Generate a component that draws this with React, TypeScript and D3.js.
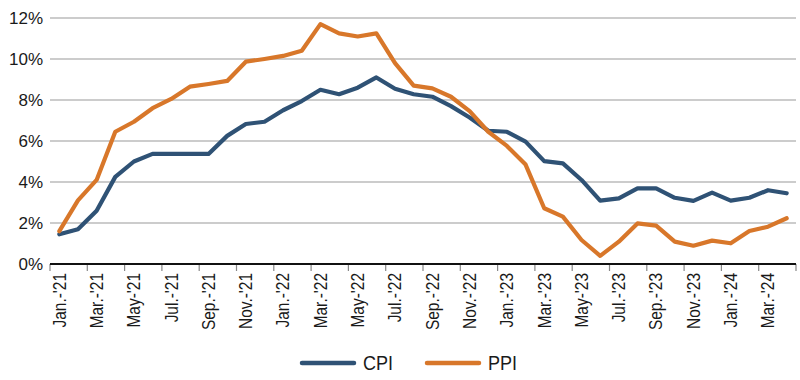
import React from "react";
import * as d3 from "d3";

const months = [
  "Jan.-'21","Feb.-'21","Mar.-'21","Apr.-'21","May-'21","Jun.-'21","Jul.-'21","Aug.-'21","Sep.-'21","Oct.-'21","Nov.-'21","Dec.-'21",
  "Jan.-'22","Feb.-'22","Mar.-'22","Apr.-'22","May-'22","Jun.-'22","Jul.-'22","Aug.-'22","Sep.-'22","Oct.-'22","Nov.-'22","Dec.-'22",
  "Jan.-'23","Feb.-'23","Mar.-'23","Apr.-'23","May-'23","Jun.-'23","Jul.-'23","Aug.-'23","Sep.-'23","Oct.-'23","Nov.-'23","Dec.-'23",
  "Jan.-'24","Feb.-'24","Mar.-'24","Apr.-'24",
];

const cpi = [
  1.45, 1.7, 2.6, 4.25, 5.0, 5.37, 5.37, 5.37, 5.37, 6.25, 6.83, 6.94,
  7.5, 7.95, 8.5, 8.28, 8.6, 9.1, 8.55, 8.28, 8.16, 7.7, 7.15, 6.5,
  6.45, 5.97, 5.02, 4.91, 4.1, 3.09, 3.2, 3.69, 3.69, 3.23, 3.08, 3.48,
  3.09, 3.23, 3.6, 3.45,
];

const ppi = [
  1.6, 3.1, 4.1, 6.45, 6.94, 7.6, 8.05, 8.65, 8.78, 8.93, 9.87, 10.0,
  10.15, 10.4, 11.7, 11.25, 11.1, 11.25, 9.8, 8.7, 8.57, 8.16, 7.46, 6.45,
  5.76, 4.85, 2.72, 2.31, 1.17, 0.4, 1.09, 1.98, 1.87, 1.09, 0.89, 1.14,
  1.01, 1.61, 1.82, 2.23,
];

const yTicks = [0, 2, 4, 6, 8, 10, 12];

const series = [
  { name: "CPI", values: cpi, color: "#2f5275" },
  { name: "PPI", values: ppi, color: "#d8772a" },
];

export default function App() {
  const W = 800, H = 380;
  const left = 50, right = 796, top = 18, bottom = 264;

  const x = d3.scaleBand<number>().domain(d3.range(months.length)).range([left, right]).padding(0);
  const y = d3.scaleLinear().domain([0, 12]).range([bottom, top]);

  const line = d3
    .line<number>()
    .x((_, i) => (x(i) as number) + x.bandwidth() / 2)
    .y((d) => y(d))
    .curve(d3.curveLinear);

  const tickIdx = d3.range(0, months.length + 1, 2);
  const font = "'Liberation Sans', Arial, sans-serif";

  return (
    <svg width={W} height={H} style={{ position: "absolute", left: 0, top: 0, background: "#fff" }}>
      {yTicks.filter((t) => t > 0).map((t) => (
        <line key={t} x1={left} x2={right} y1={y(t)} y2={y(t)} stroke="#9a9a9a" strokeWidth={1.2} />
      ))}
      {yTicks.map((t) => (
        <text key={"l" + t} x={43} y={y(t)} dy="0.36em" textAnchor="end" fontFamily={font} fontSize={17} fill="#1a1a1a">
          {t}%
        </text>
      ))}
      {tickIdx.map((i) => {
        const xx = i < months.length ? (x(i) as number) : right;
        return <line key={"t" + i} x1={xx} x2={xx} y1={bottom} y2={bottom + 7} stroke="#888" strokeWidth={1.2} />;
      })}
      {series.map((s) => (
        <path key={s.name} d={line(s.values) || ""} fill="none" stroke={s.color} strokeWidth={4.2} strokeLinejoin="round" strokeLinecap="round" />
      ))}
      <line x1={left} x2={right} y1={bottom} y2={bottom} stroke="#111" strokeWidth={2} />
      {months.map((m, i) =>
        i % 2 === 0 ? (
          <text
            key={m}
            transform={`translate(${(x(i) as number) + x.bandwidth() / 2},${bottom + 9}) rotate(-90) scale(0.86,1)`}
            textAnchor="end"
            dy="0.35em"
            fontFamily={font}
            fontSize={18}
            fill="#1a1a1a"
          >
            {m}
          </text>
        ) : null
      )}
      {series.map((s, k) => {
        const lx = k === 0 ? 302 : 427;
        return (
          <g key={"lg" + s.name}>
            <line x1={lx} x2={lx + 52} y1={363} y2={363} stroke={s.color} strokeWidth={4.5} strokeLinecap="round" />
            <text
              transform={`translate(${lx + 61},${363}) scale(0.9,1)`}
              dy="0.36em"
              fontFamily={font}
              fontSize={20}
              fill="#1a1a1a"
            >
              {s.name}
            </text>
          </g>
        );
      })}
    </svg>
  );
}
